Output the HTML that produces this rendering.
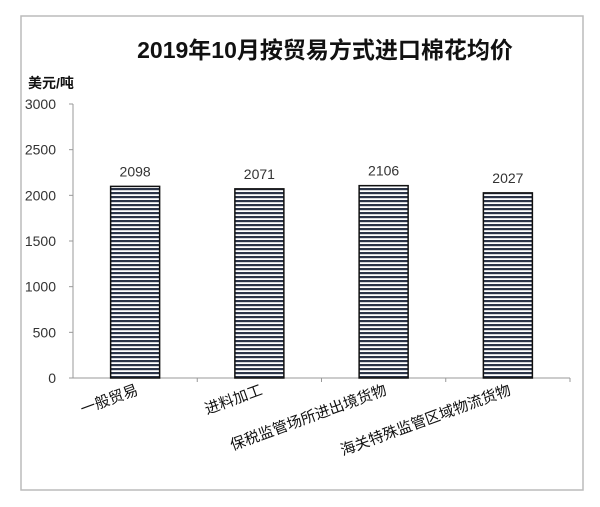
<!DOCTYPE html>
<html><head><meta charset="utf-8"><style>
body{margin:0;background:#fff}
svg text{font-family:"Liberation Sans","Noto Sans CJK SC",sans-serif}
</style></head><body>
<svg id="c" width="600" height="502" xmlns="http://www.w3.org/2000/svg">
<defs><pattern id="stripe" width="6" height="4" patternUnits="userSpaceOnUse"><rect width="6" height="4" fill="#fff"/><rect y="0" width="6" height="2.2" fill="#2b3448"/></pattern></defs>
<rect x="21" y="16" width="562" height="474" fill="#fff" stroke="#bbb" stroke-width="1.5"/>
<text x="325" y="58" text-anchor="middle" font-size="23" font-weight="bold" fill="#111">2019年10月按贸易方式进口棉花均价</text>
<text x="28" y="88" font-size="14" font-weight="bold" fill="#111">美元/吨</text>
<g id="g"></g>
</svg>
<script>
const categories=["一般贸易","进料加工","保税监管场所进出境货物","海关特殊监管区域物流货物"];
const values=[2098,2071,2106,2027];
const yTicks=[0,500,1000,1500,2000,2500,3000];
const g=document.getElementById('g');const NS="http://www.w3.org/2000/svg";
const x0=73,x1=570,y0=378,y1=104,ymax=3000;
const y=v=>y0-(v/ymax)*(y0-y1);
const bw=(x1-x0)/categories.length;
const xc=i=>x0+bw*(i+0.5);
function mk(t,a){const e=document.createElementNS(NS,t);for(const k in a)e.setAttribute(k,a[k]);g.appendChild(e);return e;}
let e=mk('line',{x1:x0,y1:y1,x2:x0,y2:y0,stroke:'#999'});


e=mk('line',{x1:x0,y1:y0,x2:x1,y2:y0,stroke:'#999'});


yTicks.forEach(t=>{
 const l=mk('line',{x1:x0-4,y1:y(t),x2:x0,y2:y(t),stroke:'#999'});
 
 
 const tx=mk('text',{x:x0-17,y:y(t)+5,'text-anchor':'end','font-size':14,fill:'#333'});tx.textContent=t;
 
 
});
for(let i=1;i<=categories.length;i++){const l=mk('line',{x1:x0+bw*i,y1:y0,x2:x0+bw*i,y2:y0+4,stroke:'#999'});
 
 }
categories.forEach((c,i)=>{
 const w=49;
 const r=mk('rect',{x:xc(i)-w/2,y:y(values[i]),width:w,height:y0-y(values[i]),fill:'url(#stripe)',stroke:'#111','stroke-width':1.5});
 
 
 const v=mk('text',{x:xc(i),y:y(values[i])-10,'text-anchor':'middle','font-size':14,fill:'#333'});v.textContent=values[i];
 
 
 const lx=xc(i)+4,ly=y0+16;
 const t=mk('text',{x:lx,y:ly,'text-anchor':'end','font-size':15,fill:'#111',transform:`rotate(-20 ${lx} ${ly})`});t.textContent=c;
 
 
});
</script>
</body></html>
